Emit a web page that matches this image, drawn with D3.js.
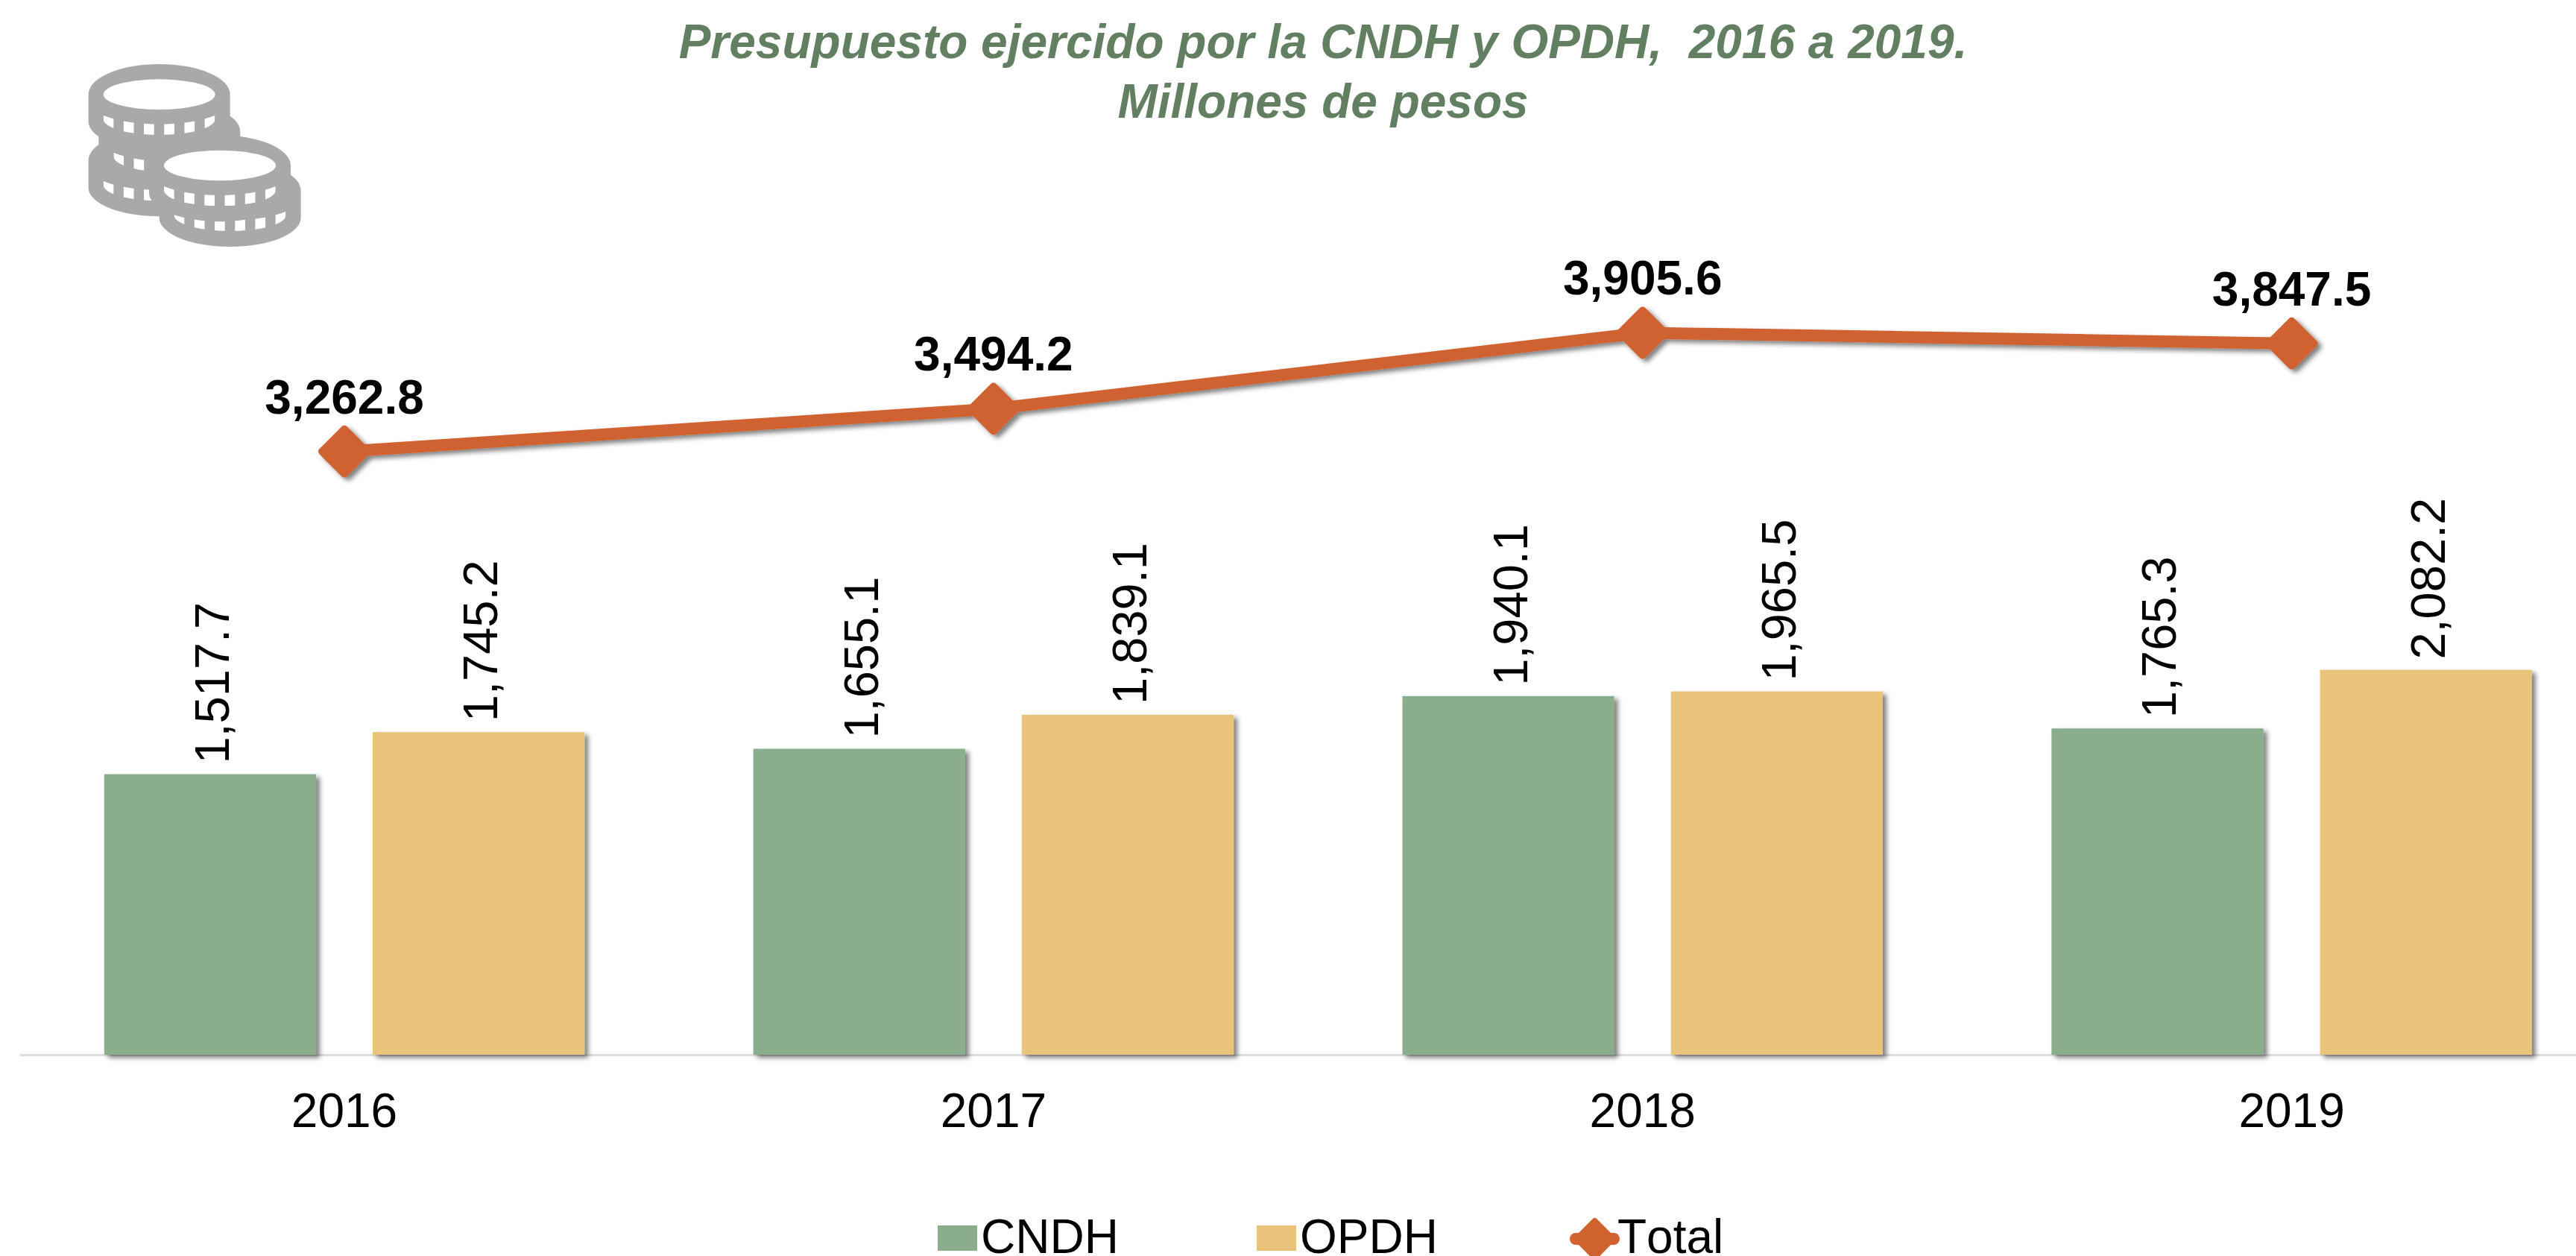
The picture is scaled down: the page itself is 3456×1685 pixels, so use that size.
<!DOCTYPE html>
<meta charset="utf-8">
<head>
  <style>
    body { margin: 0; background: #fff; overflow: hidden; }
    text { font-family: "Liberation Sans", Arial, sans-serif; fill: #000; }
    .title { font-size: 64px; font-weight: bold; font-style: italic; fill: #627F62; text-anchor: middle; }
    .year { font-size: 64px; text-anchor: middle; }
    .barlabel { font-size: 65px; }
    .totlabel { font-size: 64px; font-weight: bold; text-anchor: middle; }
    .legend { font-size: 64px; font-kerning: none; }
  </style>
  <script src="https://d3js.org/d3.v7.min.js"></script>
</head>
<body>
  <svg width="3456" height="1685"></svg>
  <script>
    var years = ["2016", "2017", "2018", "2019"];
    var seriesNames = ["CNDH", "OPDH"];
    var cndh = [1517.7, 1655.1, 1940.1, 1765.3];
    var opdh = [1745.2, 1839.1, 1965.5, 2082.2];
    var total = [3262.8, 3494.2, 3905.6, 3847.5];
    var titleLines = ["Presupuesto ejercido por la CNDH y OPDH,  2016 a 2019.", "Millones de pesos"];

    var green = "#8AAD8B", yellow = "#E9C379", orange = "#D06230", grey = "#A9A9A9";

    var svg = d3.select("svg");
    var defs = svg.append("defs");

    var shadow = defs.append("filter").attr("id", "shadow")
      .attr("x", "-10%").attr("y", "-10%").attr("width", "125%").attr("height", "125%");
    shadow.append("feDropShadow").attr("dx", 5).attr("dy", 4).attr("stdDeviation", 3)
      .attr("flood-color", "#000").attr("flood-opacity", 0.5);

    // the plot runs off the right edge of the page in the original
    var x = d3.scaleBand().domain(years).range([26.6, 3510]).paddingInner(0.26).paddingOuter(0.13);
    var xSeries = d3.scaleBand().domain(seriesNames).range([0, x.bandwidth()]).paddingInner(0.211);
    var y = d3.scaleLinear().domain([0, 5000]).range([1415, 175]);
    var fmt = d3.format(",.1f");

    // title
    svg.selectAll(".title").data(titleLines).enter().append("text")
      .attr("class", "title")
      .attr("x", 1775)
      .attr("y", function(d, i) { return 78 + i * 80; })
      .style("white-space", "pre")
      .text(function(d) { return d; });

    // baseline + category labels
    var xAxis = d3.axisBottom(x).tickSize(0).tickPadding(0);
    var axisG = svg.append("g").attr("transform", "translate(0," + y(0) + ")").call(xAxis);
    axisG.select(".domain").attr("stroke", "#DDDDDD").attr("stroke-width", 3);
    axisG.selectAll("text").attr("class", "year").attr("y", 0).attr("dy", 0)
      .attr("transform", "translate(0,97)").attr("font-size", null).attr("font-family", null);

    // bars
    var barData = [{ name: "CNDH", values: cndh, color: green }, { name: "OPDH", values: opdh, color: yellow }];
    barData.forEach(function(s) {
      var g = svg.append("g").attr("class", "bars-" + s.name);
      g.selectAll("rect").data(s.values).enter().append("rect")
        .attr("x", function(d, i) { return x(years[i]) + xSeries(s.name); })
        .attr("y", function(d) { return y(d); })
        .attr("width", xSeries.bandwidth())
        .attr("height", function(d) { return y(0) - y(d); })
        .attr("fill", s.color)
        .attr("filter", "url(#shadow)");
      g.selectAll("text").data(s.values).enter().append("text")
        .attr("class", "barlabel")
        .attr("transform", function(d, i) {
          var cx = x(years[i]) + xSeries(s.name) + xSeries.bandwidth() / 2;
          return "translate(" + (cx + 25) + "," + (y(d) - 14) + ") rotate(-90)";
        })
        .text(function(d) { return fmt(d); });
    });

    // total line
    var lineX = function(i) { return x(years[i]) + x.bandwidth() / 2; };
    var line = d3.line().x(function(d, i) { return lineX(i); }).y(function(d) { return y(d); });
    var lineG = svg.append("g").attr("filter", "url(#shadow)");
    lineG.append("path").datum(total)
      .attr("d", line).attr("fill", "none").attr("stroke", orange)
      .attr("stroke-width", 16);

    var diamond = "M0,-30L30,0L0,30L-30,0Z";
    lineG.selectAll(".mark").data(total).enter().append("path")
      .attr("class", "mark")
      .attr("d", diamond)
      .attr("transform", function(d, i) { return "translate(" + lineX(i) + "," + y(d) + ")"; })
      .attr("fill", orange).attr("stroke", orange).attr("stroke-width", 10).attr("stroke-linejoin", "round");

    svg.selectAll(".totlabel").data(total).enter().append("text")
      .attr("class", "totlabel")
      .attr("x", function(d, i) { return lineX(i); })
      .attr("y", function(d) { return y(d) - 51; })
      .text(function(d) { return fmt(d); });

    // legend
    var legendItems = [
      { name: "CNDH", color: green, sx: 1258, tx: 1316 },
      { name: "OPDH", color: yellow, sx: 1686, tx: 1744 }
    ];
    legendItems.forEach(function(l) {
      svg.append("rect").attr("x", l.sx).attr("y", 1644).attr("width", 53).attr("height", 34).attr("fill", l.color);
      svg.append("text").attr("class", "legend").attr("x", l.tx).attr("y", 1681).text(l.name);
    });
    svg.append("line").attr("x1", 2114).attr("x2", 2165).attr("y1", 1662).attr("y2", 1662)
      .attr("stroke", orange).attr("stroke-width", 16).attr("stroke-linecap", "round");
    svg.append("path").attr("d", "M0,-24L24,0L0,24L-24,0Z").attr("transform", "translate(2139.5,1662)")
      .attr("fill", orange).attr("stroke", orange).attr("stroke-width", 8).attr("stroke-linejoin", "round");
    svg.append("text").attr("class", "legend").attr("x", 2170).attr("y", 1681).text("Total");

    // coins icon, drawn in a 3x local grid
    var icon = svg.append("g").attr("transform", "translate(60,50) scale(0.3333)");
    defs.append("clipPath").attr("id", "band").append("path")
      .attr("d", "M-225,84A285,93 0 0 0 225,84V99A225,64 0 0 1 -225,99Z");

    function coin(cx, cy, open) {
      var g = icon.append("g").attr("transform", "translate(" + cx + "," + cy + ")");
      g.append("path")
        .attr("d", "M-285,0A285,122 0 0 1 285,0V110A285,116 0 0 1 -285,110Z")
        .attr("fill", grey);
      if (open) {
        g.append("ellipse").attr("rx", 225).attr("ry", 61).attr("fill", "#fff");
      }
      g.append("g").attr("clip-path", "url(#band)")
        .selectAll("rect").data(d3.range(6)).enter().append("rect")
        .attr("x", function(d) { return -225 + d * 81.6; })
        .attr("y", 70).attr("width", 41).attr("height", 100).attr("fill", "#fff");
    }
    coin(461, 495, false);
    coin(502, 380, false);
    coin(461, 230, true);
    coin(746, 617, false);
    coin(705, 516, true);
  </script>
</body>
